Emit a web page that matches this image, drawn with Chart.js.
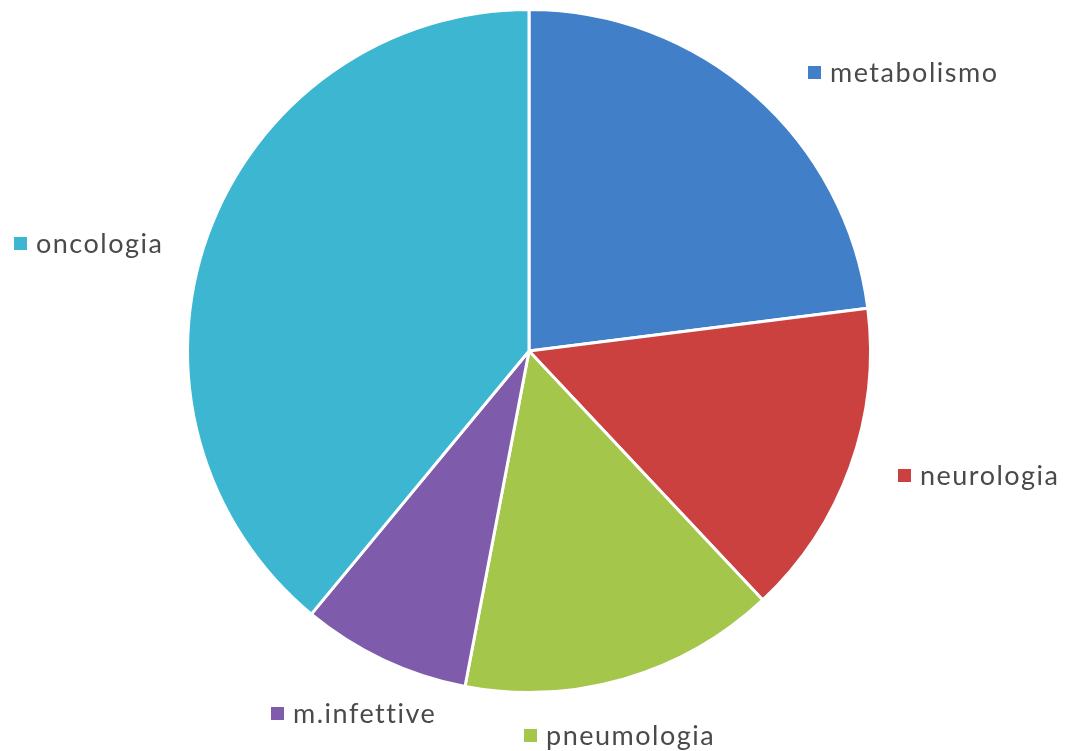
<!DOCTYPE html>
<html>
<head>
<meta charset="utf-8">
<script src="https://cdn.jsdelivr.net/npm/chart.js@4"></script>
<style>
  html, body { margin: 0; padding: 0; background: #ffffff; }
  #wrap { width: 1066px; height: 751px; position: relative; }
</style>
</head>
<body>
<div id="wrap"><canvas id="c" width="1066" height="751"></canvas></div>
<script>
// Distribution of cases by area
const categories = ['metabolismo', 'neurologia', 'pneumologia', 'm.infettive', 'oncologia'];
const values = [23, 15, 15, 8, 39];
const colors = ['#4180C8', '#CA413F', '#A3C64B', '#7F5BAB', '#3DB6D2'];

// Where each category label sits on the canvas (square marker left edge, text vertical centre)
const labelSpots = {
  'metabolismo': [808, 72],
  'neurologia': [898, 475],
  'pneumologia': [524, 735],
  'm.infettive': [271, 713],
  'oncologia': [14, 243]
};

const sliceLabels = {
  id: 'sliceLabels',
  afterDraw(chart) {
    const ctx = chart.ctx;
    const ds = chart.data.datasets[0];
    ctx.save();
    ctx.font = '27px Lato, "Open Sans", sans-serif';
    ctx.textBaseline = 'middle';
    ctx.textAlign = 'left';
    if ('letterSpacing' in ctx) ctx.letterSpacing = '1.5px';
    chart.data.labels.forEach((lab, i) => {
      const p = labelSpots[lab];
      if (!p) return;
      ctx.fillStyle = ds.backgroundColor[i];
      ctx.fillRect(p[0], p[1] - 6, 13, 13);
      ctx.fillStyle = '#4a4a4a';
      ctx.fillText(lab, p[0] + 22, p[1] + 1);
    });
    ctx.restore();
  }
};

new Chart(document.getElementById('c'), {
  type: 'pie',
  data: {
    labels: categories,
    datasets: [{
      data: values,
      backgroundColor: colors,
      borderColor: '#ffffff',
      borderWidth: 3
    }]
  },
  options: {
    responsive: false,
    animation: false,
    rotation: 0,
    layout: { padding: { top: 8, bottom: 57, left: 186, right: 194 } },
    plugins: {
      legend: { display: false },
      tooltip: { enabled: false }
    }
  },
  plugins: [sliceLabels]
});
</script>
</body>
</html>
